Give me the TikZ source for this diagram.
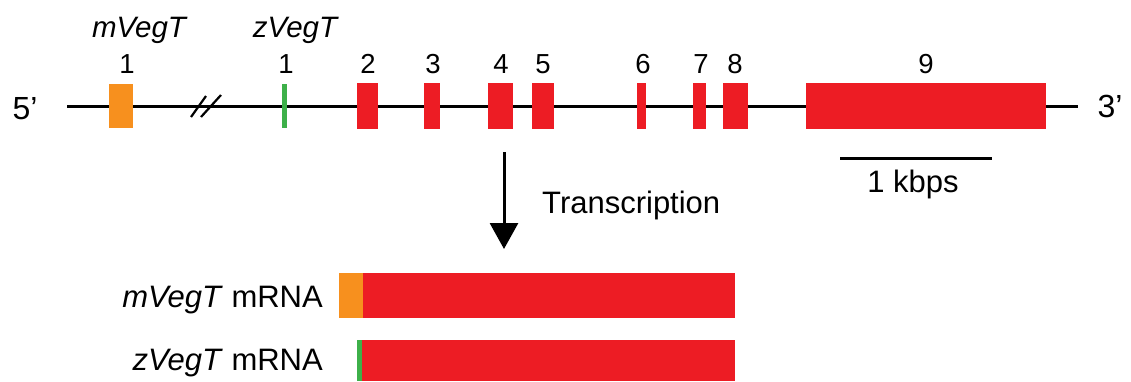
\documentclass[tikz,border=0pt]{standalone}
\usepackage{fontspec}
\setmainfont{Liberation Sans}
\usetikzlibrary{arrows.meta}

\definecolor{exonred}{HTML}{ED1C24}
\definecolor{exonorange}{HTML}{F7901E}
\definecolor{exongreen}{HTML}{3DB049}

\tikzset{
  exonbox/.style={inner sep=0pt, outer sep=0pt, draw=none, minimum height=46pt},
  num/.style={inner sep=0pt, anchor=base, font=\fontsize{27.5}{30}\selectfont},
  genelabel/.style={inner sep=0pt, anchor=base, font=\fontsize{29.5}{32}\selectfont\itshape},
  endlabel/.style={inner sep=0pt, anchor=base, font=\fontsize{32}{36}\selectfont},
  biglabel/.style={inner sep=0pt, font=\fontsize{31}{36}\selectfont},
  strand/.style={line width=3pt},
  breakmark/.style={line width=2.2pt},
  mrna/.style={inner sep=0pt, outer sep=0pt, draw=none, minimum height=45pt}
}

\begin{document}
\begin{tikzpicture}[x=1pt, y=-1pt]
  \useasboundingbox (0,0) rectangle (1131,381);

  % genomic strand
  \coordinate (s5) at (67,106.5);
  \coordinate (s3) at (1078,106.5);
  \draw[strand] (s5) -- (s3);
  \node[endlabel] (p5) at (25,119) {5’};
  \node[endlabel] (p3) at (1110,117) {3’};

  % break in the strand
  \coordinate (b1a) at (191,117);
  \coordinate (b1b) at (206,96);
  \coordinate (b2a) at (201,117);
  \coordinate (b2b) at (221,95);
  \draw[breakmark] (b1a) -- (b1b);
  \draw[breakmark] (b2a) -- (b2b);

  % exons
  \node[exonbox, fill=exonorange, minimum width=24pt, minimum height=44pt] (m1) at (121,106) {};
  \node[exonbox, fill=exongreen, minimum width=4.5pt, minimum height=44pt] (z1) at (284.5,106) {};
  \node[exonbox, fill=exonred, minimum width=21pt]  (e2) at (367.5,106) {};
  \node[exonbox, fill=exonred, minimum width=16pt]  (e3) at (432,106) {};
  \node[exonbox, fill=exonred, minimum width=25pt]  (e4) at (500.5,106) {};
  \node[exonbox, fill=exonred, minimum width=22pt]  (e5) at (543,106) {};
  \node[exonbox, fill=exonred, minimum width=9pt]   (e6) at (641.5,106) {};
  \node[exonbox, fill=exonred, minimum width=13pt]  (e7) at (699.5,106) {};
  \node[exonbox, fill=exonred, minimum width=25pt]  (e8) at (735.5,106) {};
  \node[exonbox, fill=exonred, minimum width=240pt] (e9) at (926,106) {};

  % exon numbers
  \node[num] (n1m) at (127,73) {1};
  \node[num] (n1z) at (286,73) {1};
  \node[num] (n2) at (368,73) {2};
  \node[num] (n3) at (433,73) {3};
  \node[num] (n4) at (501,73) {4};
  \node[num] (n5) at (543,73) {5};
  \node[num] (n6) at (643,73) {6};
  \node[num] (n7) at (701,73) {7};
  \node[num] (n8) at (735,73) {8};
  \node[num] (n9) at (926,73) {9};

  % gene names
  \node[genelabel] (gm) at (139,37) {mVegT};
  \node[genelabel] (gz) at (295,37) {zVegT};

  % scale bar
  \coordinate (sb1) at (840,158);
  \coordinate (sb2) at (992,158);
  \draw[line width=3pt] (sb1) -- (sb2);
  \node[biglabel, anchor=base] (kb) at (913,192) {1 kbps};

  % transcription step
  \coordinate (ar1) at (504,152);
  \coordinate (ar2) at (504,249);
  \draw[line width=3pt, -{Triangle[width=28pt,length=26pt]}] (ar1) -- (ar2);
  \node[biglabel, anchor=base west] (tr) at (542,213) {Transcription};

  % transcripts
  \node[mrna, fill=exonorange, minimum width=24pt] (rm1) at (351,295.5) {};
  \node[mrna, fill=exonred, minimum width=372pt, anchor=west] (rm) at (rm1.east) {};
  \node[mrna, fill=exongreen, minimum width=5pt, minimum height=41pt] (rz1) at (359.5,360.5) {};
  \node[mrna, fill=exonred, minimum width=373pt, minimum height=41pt, anchor=west] (rz) at (rz1.east) {};

  \node[biglabel, anchor=base east] (lm) at (323,307) {\textit{mVegT} mRNA};
  \node[biglabel, anchor=base east] (lz) at (323,370) {\textit{zVegT} mRNA};
\end{tikzpicture}
\end{document}
